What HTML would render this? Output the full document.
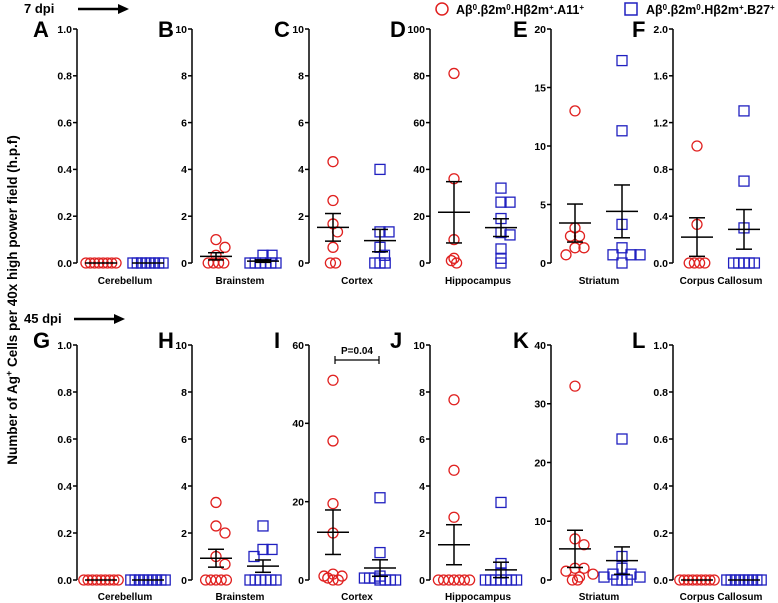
<!DOCTYPE html>
<html><head><meta charset="utf-8"><style>
html,body{margin:0;padding:0;background:#fff;}
svg{display:block;font-family:"Liberation Sans",sans-serif;}
</style></head><body>
<svg id="fig" width="778" height="603" viewBox="0 0 778 603">
<text x="24" y="13" font-size="13" font-weight="bold">7 dpi</text>
<line x1="78" y1="9" x2="120" y2="9" stroke="#000" stroke-width="2.5"/>
<polygon points="118,4 129,9 118,14" fill="#000"/>
<text x="24" y="323" font-size="13" font-weight="bold">45 dpi</text>
<line x1="74" y1="319" x2="116" y2="319" stroke="#000" stroke-width="2.5"/>
<polygon points="114,314 125,319 114,324" fill="#000"/>
<text transform="translate(17,300) rotate(-90)" text-anchor="middle" font-size="13.5" font-weight="bold">Number of Ag<tspan baseline-shift="super" font-size="9">+</tspan> Cells per 40x high power field (h.p.f)</text>
<g>
<circle cx="442" cy="9" r="6" fill="none" stroke="#e0201f" stroke-width="1.5"/>
<text x="456" y="14" font-size="12.5" font-weight="bold">Aβ<tspan baseline-shift="super" font-size="8">0</tspan>.β2m<tspan baseline-shift="super" font-size="8">0</tspan>.Hβ2m<tspan baseline-shift="super" font-size="8">+</tspan>.A11<tspan baseline-shift="super" font-size="8">+</tspan></text>
<rect x="625" y="3" width="12" height="12" fill="none" stroke="#2020c0" stroke-width="1.5"/>
<text x="646" y="14" font-size="12.5" font-weight="bold">Aβ<tspan baseline-shift="super" font-size="8">0</tspan>.β2m<tspan baseline-shift="super" font-size="8">0</tspan>.Hβ2m<tspan baseline-shift="super" font-size="8">+</tspan>.B27<tspan baseline-shift="super" font-size="8">+</tspan></text>
</g>
<g id="panels"></g>
</svg>
<script>
const panelLetters = ["A","B","C","D","E","F","G","H","I","J","K","L"];
const regions = ["Cerebellum","Brainstem","Cortex","Hippocampus","Striatum","Corpus Callosum","Cerebellum","Brainstem","Cortex","Hippocampus","Striatum","Corpus Callosum"];
const yMax = [1,10,10,100,20,2,1,10,60,10,40,1];
const yTicks = [
 ["0.0","0.2","0.4","0.6","0.8","1.0"],["0","2","4","6","8","10"],["0","2","4","6","8","10"],
 ["0","20","40","60","80","100"],["0","5","10","15","20"],["0.0","0.4","0.8","1.2","1.6","2.0"],
 ["0.0","0.2","0.4","0.6","0.8","1.0"],["0","2","4","6","8","10"],["0","20","40","60"],
 ["0","2","4","6","8","10"],["0","10","20","30","40"],["0.0","0.2","0.4","0.6","0.8","1.0"]];
const redA11 = [
 [0,0,0,0,0,0,0,0],
 [1.0,0.67,0.33,0,0,0,0],
 [4.33,2.67,1.67,1.33,0.67,0,0],
 [81,36,10,2,1,0],
 [13,3,2.3,2.3,1.3,1.3,0.7],
 [1.0,0.33,0,0,0,0],
 [0,0,0,0,0,0,0,0,0],
 [3.3,2.3,2.0,1.0,0.67,0,0,0,0,0],
 [51,35.5,19.5,12,1.5,1,1,0.5,0,0],
 [7.67,4.67,2.67,0,0,0,0,0,0,0],
 [33,7,6,2,2,1.5,1,0.5,0,0],
 [0,0,0,0,0,0,0,0,0]];
const blueB27 = [
 [0,0,0,0,0,0,0,0],
 [0.33,0.33,0,0,0,0,0,0],
 [4,1.33,1.33,0.67,0.33,0,0,0],
 [32,26,26,19,13,12,6,2,0],
 [17.3,11.3,3.3,1.3,0.7,0.7,0.7,0],
 [1.3,0.7,0.3,0,0,0,0,0],
 [0,0,0,0,0,0,0,0,0],
 [2.3,1.3,1.3,1.0,0,0,0,0,0,0],
 [21,7,1,0.5,0.5,0.5,0,0,0,0],
 [3.3,0.7,0.3,0,0,0,0,0,0,0],
 [24,4,2,1,1,0.5,0.5,0,0,0],
 [0,0,0,0,0,0,0,0,0]];
const pAnnotation = ["P=0.04"];

const NS="http://www.w3.org/2000/svg";
const root=document.getElementById("panels");
function mk(tag,attrs,parent){const e=document.createElementNS(NS,tag);for(const k in attrs)e.setAttribute(k,attrs[k]);(parent||root).appendChild(e);return e;}
const axX=[77,192,309,430,551,673];
const rows=[{top:29,zero:263,lab:284,letterY:37},{top:345,zero:580,lab:600,letterY:348}];
const letterX=[33,158,274,390,513,632];
function stats(a){const n=a.length;const m=a.reduce((s,v)=>s+v,0)/n;const sd=Math.sqrt(a.reduce((s,v)=>s+(v-m)*(v-m),0)/(n-1));return [m,sd/Math.sqrt(n)];}
for(let p=0;p<12;p++){
  const r=rows[Math.floor(p/6)], c=p%6, ax=axX[c];
  const g=mk("g",{});
  
  
  const y=v=>r.zero-(v/yMax[p])*(r.zero-r.top);
  const lt=mk("text",{x:letterX[c],y:r.letterY,"font-size":22,"font-weight":"bold"},g);lt.textContent=panelLetters[p];
  
  
  const axl=mk("line",{x1:ax,y1:r.top,x2:ax,y2:r.zero,stroke:"#000","stroke-width":1.5},g);
  
  
  yTicks[p].forEach(t=>{const v=parseFloat(t);const yy=y(v);
    mk("line",{x1:ax-4,y1:yy,x2:ax,y2:yy,stroke:"#000","stroke-width":1.5},g);
    const tt=mk("text",{x:ax-5,y:yy+3.8,"font-size":10.5,"font-weight":"bold","text-anchor":"end"},g);tt.textContent=t;
    
    });
  const cl=mk("text",{x:ax+48,y:r.lab,"font-size":10,"font-weight":"bold","text-anchor":"middle"},g);cl.textContent=regions[p];
  
  
  [[redA11[p],ax+24,"#e0201f","circle"],[blueB27[p],ax+71,"#2020c0","square"]].forEach(([d,cx,col,shape])=>{
    const zeroRow=d.filter(v=>r.zero-y(v)<2.5);
    const others=d.filter(v=>r.zero-y(v)>=2.5);
    const draw=(v,ox)=>{
      const yy=y(v);let m;
      if(shape==="circle") m=mk("circle",{cx:cx+ox,cy:yy,r:5,fill:"none",stroke:col,"stroke-width":1.3},g);
      else m=mk("rect",{x:cx+ox-5,y:yy-5,width:10,height:10,fill:"none",stroke:col,"stroke-width":1.3},g);
      
      
    };
    const nz=zeroRow.length;
    const sp=d.length===nz?4.3:5.2;
    zeroRow.forEach((v,i)=>draw(v,(i-(nz-1)/2)*sp));
    const placed=[];
    others.forEach(v=>{
      const yy=y(v);
      const cands=[0];for(let k=1;k<8;k++){cands.push(k*4.5,-k*4.5);}
      let ox=0;
      for(const o of cands){if(placed.every(q=>Math.hypot(q[0]-o,q[1]-yy)>=9)){ox=o;break;}}
      placed.push([ox,yy]);
      draw(v,ox);
    });
    const [mn,se]=stats(d);
    const eb=mk("g",{stroke:"#000","stroke-width":1.5},g);
    
    
    mk("line",{x1:cx-16,y1:y(mn),x2:cx+16,y2:y(mn)},eb);
    if(se>0){mk("line",{x1:cx,y1:y(mn+se),x2:cx,y2:y(mn-se)},eb);
      mk("line",{x1:cx-8,y1:y(mn+se),x2:cx+8,y2:y(mn+se)},eb);
      mk("line",{x1:cx-8,y1:y(mn-se),x2:cx+8,y2:y(mn-se)},eb);}
  });
  if(p===8){
    const b=mk("g",{stroke:"#000","stroke-width":1.2},g);
    
    
    mk("line",{x1:ax+26,y1:360,x2:ax+70,y2:360},b);
    mk("line",{x1:ax+26,y1:356,x2:ax+26,y2:364},b);
    mk("line",{x1:ax+70,y1:356,x2:ax+70,y2:364},b);
    const pt=mk("text",{x:ax+48,y:354,"font-size":10,"font-weight":"bold","text-anchor":"middle"},g);pt.textContent=pAnnotation[0];
    
    
  }
}
</script>
</body></html>
